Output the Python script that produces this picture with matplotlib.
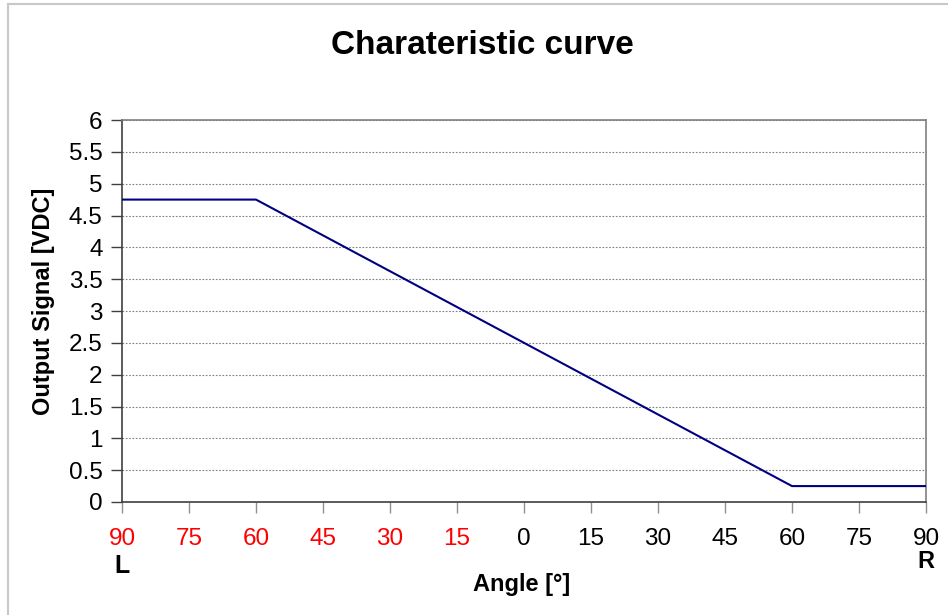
import matplotlib
matplotlib.use("Agg")
import matplotlib.pyplot as plt
from matplotlib.lines import Line2D
from matplotlib.transforms import blended_transform_factory

plt.rcParams['font.family'] = ['Liberation Sans', 'DejaVu Sans']

# Data: angle (negative = left side, positive = right side), output signal [VDC]
angle = [-90, -60, 60, 90]
signal = [4.75, 4.75, 0.25, 0.25]

x_ticks = [-90, -75, -60, -45, -30, -15, 0, 15, 30, 45, 60, 75, 90]
x_tick_labels = ["90", "75", "60", "45", "30", "15", "0", "15", "30", "45", "60", "75", "90"]
y_ticks = [0, 0.5, 1, 1.5, 2, 2.5, 3, 3.5, 4, 4.5, 5, 5.5, 6]
y_tick_labels = ["0", "0.5", "1", "1.5", "2", "2.5", "3", "3.5", "4", "4.5", "5", "5.5", "6"]

W, H = 948, 615
fig = plt.figure(figsize=(W / 100, H / 100), dpi=100)
ax = fig.add_axes([122 / W, 1 - 502 / H, (926 - 122) / W, (502 - 120) / H])

# chart-area frame
fig.add_artist(Line2D([8 / W, 8 / W], [0, 1 - 3.5 / H], transform=fig.transFigure,
                      color='#c8c8c8', lw=1.5))
fig.add_artist(Line2D([8 / W, 1], [1 - 3.5 / H, 1 - 3.5 / H], transform=fig.transFigure,
                      color='#c8c8c8', lw=1.5))

ax.plot(angle, signal, color='#000080', lw=1.5, zorder=3)

ax.set_xlim(-90, 90)
ax.set_ylim(0, 6)
ax.set_yticks(y_ticks)
ax.set_yticklabels(y_tick_labels)
ax.set_xticks(x_ticks)
ax.set_xticklabels(x_tick_labels)

ax.tick_params(axis='both', direction='out', length=8, width=1, color='#404040',
               labelsize=17.5)
ax.tick_params(axis='x', pad=11, color='#909090')
ax.tick_params(axis='y', pad=6)
for t, val in zip(ax.get_xticklabels(), x_ticks):
    t.set_color('red' if val < 0 else 'black')

ax.yaxis.grid(True, linestyle=(0, (1.5, 1.5)), color='#808080', lw=0.8)

ax.spines['left'].set_color('#404040')
ax.spines['bottom'].set_color('#404040')
ax.spines['top'].set_color('#808080')
ax.spines['right'].set_color('#808080')
for s in ax.spines.values():
    s.set_linewidth(1.2)

fig.text(482 / W, 1 - 45 / H, "Charateristic curve", fontsize=24, fontweight='bold',
         ha='center', va='center')
ax.set_ylabel("Output Signal [VDC]", fontsize=17, fontweight='bold')
ax.yaxis.set_label_coords((43 - 122) / 804, (502 - 301) / 382)
ax.set_xlabel("Angle [°]", fontsize=17, fontweight='bold')
ax.xaxis.set_label_coords((522 - 122) / 804, (502 - 584) / 382)
ax.xaxis.label.set_va('center')
ax.yaxis.label.set_va('center')

tr = blended_transform_factory(ax.transData, fig.transFigure)
ax.text(-90, 1 - 566 / H, "L", transform=tr, ha='center', va='center',
        fontsize=18, fontweight='bold')
ax.text(90, 1 - 562 / H, "R", transform=tr, ha='center', va='center',
        fontsize=17, fontweight='bold')

fig.savefig("out.png", dpi=100)
